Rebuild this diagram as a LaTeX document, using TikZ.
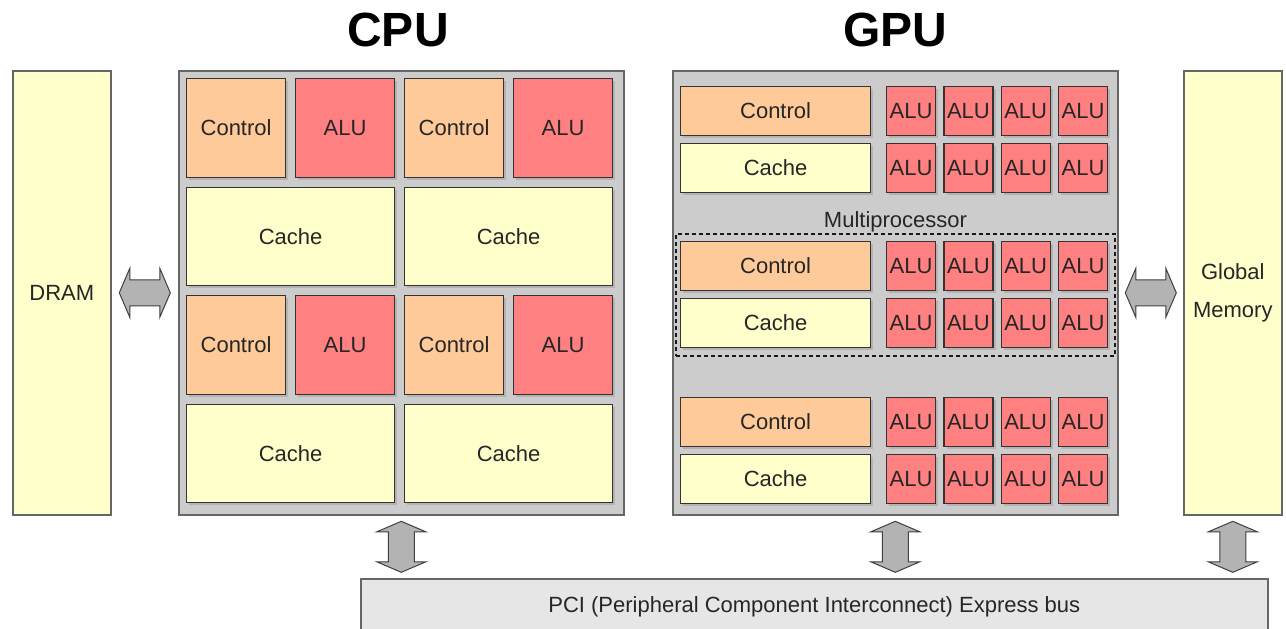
\documentclass[tikz,border=0pt]{standalone}
\usepackage{fontspec}
\setmainfont{Liberation Sans}
\usetikzlibrary{calc,shadows}
\definecolor{ctrl_orange}{HTML}{FFCA99}
\definecolor{alu_red}{HTML}{FF8080}
\definecolor{cache_yellow}{HTML}{FFFFCC}
\definecolor{chip_gray}{HTML}{CCCCCC}
\definecolor{bus_gray}{HTML}{E6E6E6}
\definecolor{arrow_gray}{HTML}{B3B3B3}
\definecolor{line_dark}{HTML}{333333}

\tikzset{
  unit/.style={draw=line_dark, line width=0.6pt, anchor=north west, inner sep=0pt,
    drop shadow={shadow xshift=1.3pt, shadow yshift=-1.3pt, fill=black, opacity=0.12}},
  ctrl/.style={unit, fill=ctrl_orange},
  alu/.style={unit, fill=alu_red},
  cache/.style={unit, fill=cache_yellow},
  cpucell/.style={minimum width=49.5pt, minimum height=49.5pt},
  cpucache/.style={minimum width=104pt, minimum height=49pt},
  gpuwide/.style={minimum width=95pt, minimum height=24.5pt},
  gpualu/.style={minimum width=24.5pt, minimum height=24.5pt},
  chip/.style={draw=black!60, line width=0.8pt, fill=chip_gray, anchor=north west,
    inner sep=0pt, minimum width=222.5pt, minimum height=222pt},
  mem/.style={draw=black!60, line width=0.8pt, fill=cache_yellow, anchor=north west,
    inner sep=0pt, minimum width=49pt, minimum height=222pt, align=center},
  pics/busarrow/.style={code={
    \draw[fill=arrow_gray, draw=black!75, line width=0.5pt]
      (-25.5,0) -- (-15,-24.5) -- (-15,-13) -- (15,-13) -- (15,-24.5) -- (25.5,0)
      -- (15,24.5) -- (15,13) -- (-15,13) -- (-15,24.5) -- cycle;
  }},
}

\begin{document}
\begin{tikzpicture}[x=0.5pt, y=-0.5pt, every node/.style={font=\fontsize{11}{13}\selectfont, text=black!85}]
  \useasboundingbox (0,0) rectangle (1286,628);

  % Titles
  \node[font=\fontsize{24}{28}\selectfont\bfseries, text=black] (cputitle) at (398,30) {CPU};
  \node[font=\fontsize{24}{28}\selectfont\bfseries, text=black] (gputitle) at (895,30) {GPU};

  % Memories on both sides
  \node[mem] (dram) at (12,70) {DRAM};
  \node[mem] (gmem) at (1183,70) {Global\\[6pt]Memory};

  % CPU: few big cores
  \node[chip] (cpu) at (178,70) {};
  \foreach \y [count=\r] in {78,295} {
    \foreach \x [count=\c] in {186,404} {
      \node[ctrl, cpucell] (cctrl\r\c) at (\x,\y) {Control};
      \node[alu, cpucell] (calu\r\c) at (\x+109,\y) {ALU};
      \node[cache, cpucache] (ccache\r\c) at (\x,\y+109) {Cache};
    }
  }

  % GPU: many small ALUs
  \node[chip] (gpu) at (672,70) {};
  \foreach \y [count=\g] in {86,241,397} {
    \node[ctrl, gpuwide] (gctrl\g) at (680,\y) {Control};
    \node[cache, gpuwide] (gcache\g) at (680,\y+57) {Cache};
    \foreach \i in {0,...,3} {
      \node[alu, gpualu] (galuA\g\i) at (886+57.3*\i,\y) {ALU};
      \node[alu, gpualu] (galuB\g\i) at (886+57.3*\i,\y+57) {ALU};
    }
  }

  % Multiprocessor outline
  \node[draw=black!90, line width=1pt, dash pattern=on 2pt off 1.5pt, anchor=north west,
    inner sep=0pt, minimum width=219.5pt, minimum height=61pt] (mp) at (675,233) {};
  \node[anchor=south, inner sep=0.5pt] (mplabel) at (mp.north) {Multiprocessor};

  % PCI bus
  \node[draw=black!60, line width=0.8pt, fill=bus_gray, anchor=north west, inner sep=0pt,
    minimum width=453.5pt, minimum height=28pt] (pci) at (360,578)
    {PCI (Peripheral Component Interconnect) Express bus};

  % Data paths
  \path ($(dram.east)!0.5!(cpu.west)$) pic {busarrow};
  \path ($(gpu.east)!0.5!(gmem.west)$) pic {busarrow};
  \path ($(cpu.south)!0.5!(cpu.south |- pci.north)$) pic[rotate=90] {busarrow};
  \path ($(gpu.south)!0.5!(gpu.south |- pci.north)$) pic[rotate=90] {busarrow};
  \path ($(gmem.south)!0.5!(gmem.south |- pci.north)$) pic[rotate=90] {busarrow};

\end{tikzpicture}
\end{document}
